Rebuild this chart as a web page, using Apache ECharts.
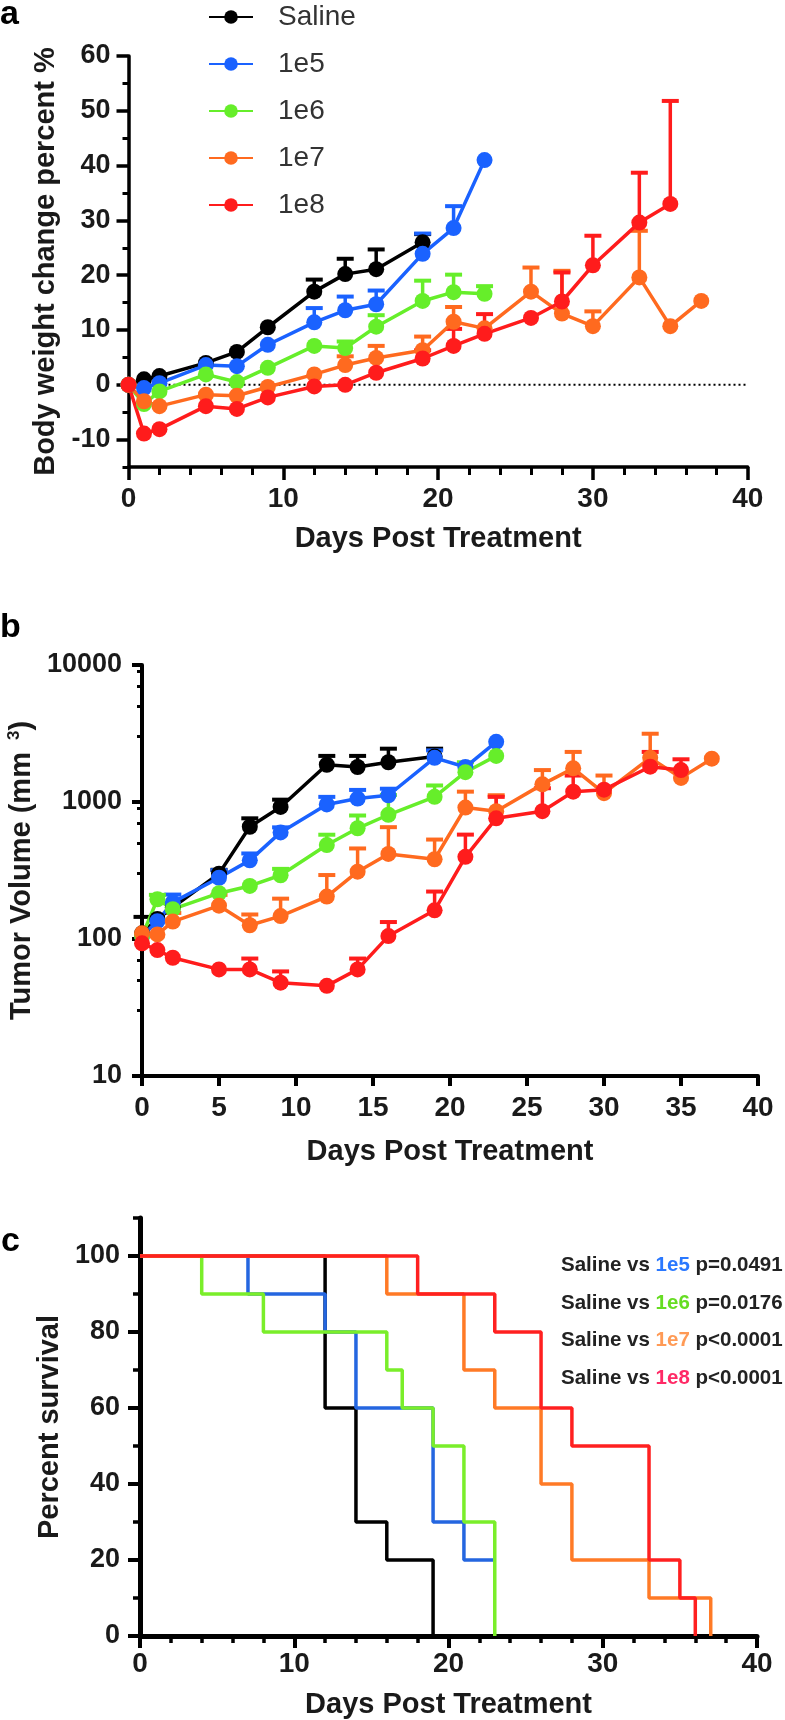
<!DOCTYPE html>
<html><head><meta charset="utf-8">
<script src="https://cdn.jsdelivr.net/npm/echarts@6/dist/echarts.min.js"></script>
<style>html,body{margin:0;padding:0;background:#fff}#c{width:785px;height:1720px}</style>
</head><body><div id="c"></div>
<script>
// ---------- shared ----------
const seriesNames = ['Saline', '1e5', '1e6', '1e7', '1e8'];
const days = [0, 1, 2, 5, 7, 9, 12, 14, 16, 19, 21, 23, 26, 28, 30, 33, 35, 37];

// ---------- panel a: body weight change % ----------
const weightSaline = [0, 1.0, 1.6, 4.0, 6.0, 10.5, 17.0, 20.2, 21.1, 26.0];
const weightSalineUp = [null, null, null, null, null, null, 19.2, 23.0, 24.7, 27.5];
const weight1e5 = [0, -0.6, 0.3, 3.6, 3.4, 7.3, 11.4, 13.6, 14.7, 23.9, 28.6, 41.0];
const weight1e5Up = [null, null, null, null, null, null, 14.0, 16.1, 17.2, 27.6, 32.6, null];
const weight1e6 = [0, -3.5, -1.2, 1.9, 0.5, 3.1, 7.1, 6.7, 10.6, 15.3, 16.9, 16.6];
const weight1e6Up = [null, null, null, null, null, null, null, 7.9, 12.7, 19.0, 20.1, 18.0];
const weight1e7 = [0, -3.0, -3.9, -1.8, -2.0, -0.4, 1.9, 3.6, 4.9, 6.3, 11.5, 10.3, 17.0, 13.0, 10.7, 19.6, 10.7, 15.3];
const weight1e7Up = [null, null, null, null, null, null, null, 5.2, 7.1, 8.8, 14.2, null, 21.4, 20.8, 13.4, 28.1, null, null];
const weight1e8 = [0, -8.9, -8.1, -3.9, -4.4, -2.3, -0.3, 0.0, 2.2, 4.8, 7.1, 9.3, 12.2, 15.2, 21.8, 29.6, 33.0];
const weight1e8Up = [null, null, null, null, null, null, null, null, null, 6.3, 10.2, 12.9, null, 20.5, 27.2, 38.7, 51.8];
const weightMajorTicks = [-10, 0, 10, 20, 30, 40, 50, 60];
const weightMinorTicks = [-15, -5, 5, 15, 25, 35, 45, 55];
const zeroLineX = [0, 40];
const zeroLineY = [0, 0];

// ---------- panel b: tumor volume (log) ----------
const tumorSaline = [110, 140, 170, 300, 660, 920, 1870, 1800, 1950, 2150];
const tumorSalineUp = [145, null, null, 320, 760, 1040, 2170, 2170, 2450, 2450];
const tumor1e5 = [105, 135, 185, 280, 375, 600, 960, 1060, 1120, 2100, 1800, 2750];
const tumor1e5Up = [null, null, 211, 318, 421, 653, 1090, 1225, 1250, 2380, null, null];
const tumor1e6 = [105, 195, 165, 216, 244, 292, 485, 643, 807, 1090, 1650, 2170];
const tumor1e6Up = [null, 210, null, null, null, 325, 577, 797, 1125, 1320, 1950, null];
const tumor1e7 = [110, 108, 134, 175, 126, 147, 204, 310, 418, 382, 910, 857, 1345, 1760, 1160, 2100, 1500, 2070];
const tumor1e7Up = [null, null, 155, 210, 151, 197, 293, 458, 655, 532, 1190, 1120, 1710, 2320, 1560, 3150, null, null];
const tumor1e8 = [93, 83, 73, 60, 60, 48, 45.5, 60, 105, 162, 398, 760, 857, 1190, 1230, 1810, 1710];
const tumor1e8Up = [null, null, null, null, 72, 58, null, 72, 133, 222, 578, 1090, 1260, 1560, null, 2320, 2050];
const tumorMinorTicks = [30, 50, 70, 90, 300, 500, 700, 900, 3000, 5000, 7000, 9000];

// ---------- panel c: survival ----------
const survSalineT = [0, 12, 14, 16, 19];
const survSalineS = [100, 60, 30, 20, 0];
const surv1e5T = [0, 7, 12, 14, 19, 21, 23];
const surv1e5S = [100, 90, 80, 60, 30, 20, 20];
const surv1e6T = [0, 4, 8, 16, 17, 19, 21, 23];
const surv1e6S = [100, 90, 80, 70, 60, 50, 30, 0];
const surv1e7T = [0, 16, 21, 23, 26, 28, 33, 37];
const surv1e7S = [100, 90, 70, 60, 40, 20, 10, 0];
const surv1e8T = [0, 18, 23, 26, 28, 33, 35, 36];
const surv1e8S = [100, 90, 80, 60, 50, 20, 10, 0];
const survMajorTicks = [0, 20, 40, 60, 80, 100];
const survMinorTicks = [10, 30, 50, 70, 90, 110];
const pGroups = ['1e5', '1e6', '1e7', '1e8'];
const pValues = ['p=0.0491', 'p=0.0176', 'p<0.0001', 'p<0.0001'];

// ---------- styling ----------
const FONT = '"Liberation Sans", Arial, Helvetica, sans-serif';
const INK = '#1a1a1a';
const lineColors = ['#000000', '#1a62ff', '#66ee2a', '#ff6a1f', '#ff1c1c'];
const survColors = ['#000000', '#2466e0', '#7aee2a', '#ff7a26', '#ff2020'];
const pColors = ['#2a78ff', '#66dd22', '#ff9a55', '#ff2a66'];

function pairs(xs, ys) { return ys.map((v, i) => [xs[i], v]); }
function errData(xs, ys, ups) {
  const out = [];
  ups.forEach((u, i) => { if (u != null) out.push([xs[i], ys[i], u]); });
  return out;
}
function errSeries(xi, yi, data, color, lw) {
  return {
    type: 'custom', name: 'err', xAxisIndex: xi, yAxisIndex: yi, data: data, silent: true,
    encode: { x: 0, y: 1 },
    renderItem: function (params, api) {
      const p0 = api.coord([api.value(0), api.value(1)]);
      const p1 = api.coord([api.value(0), api.value(2)]);
      const cap = 8.5;
      return {
        type: 'group', children: [
          { type: 'line', shape: { x1: p0[0], y1: p0[1], x2: p1[0], y2: p1[1] }, style: { stroke: color, lineWidth: lw } },
          { type: 'line', shape: { x1: p1[0] - cap, y1: p1[1], x2: p1[0] + cap, y2: p1[1] }, style: { stroke: color, lineWidth: lw + 0.5 } }
        ]
      };
    }
  };
}
function lineSeries(name, xi, yi, data, color) {
  return {
    type: 'line', name: name, xAxisIndex: xi, yAxisIndex: yi, data: data,
    symbol: 'circle', symbolSize: 16, showSymbol: true,
    lineStyle: { color: color, width: 3.5 }, itemStyle: { color: color }
  };
}
const labelStyle = (size, margin) => ({ fontFamily: FONT, fontWeight: 'bold', fontSize: size, color: INK, margin: margin });
const nameStyle = { fontFamily: FONT, fontWeight: 'bold', fontSize: 29, color: INK };

const weightVals = [weightSaline, weight1e5, weight1e6, weight1e7, weight1e8];
const weightUps = [weightSalineUp, weight1e5Up, weight1e6Up, weight1e7Up, weight1e8Up];
const tumorVals = [tumorSaline, tumor1e5, tumor1e6, tumor1e7, tumor1e8];
const tumorUps = [tumorSalineUp, tumor1e5Up, tumor1e6Up, tumor1e7Up, tumor1e8Up];
const survT = [survSalineT, surv1e5T, surv1e6T, surv1e7T, surv1e8T];
const survS = [survSalineS, surv1e5S, surv1e6S, surv1e7S, surv1e8S];

const series = [];
series.push({
  type: 'line', name: 'zero', xAxisIndex: 0, yAxisIndex: 0, data: pairs(zeroLineX, zeroLineY),
  symbol: 'none', silent: true, z: 1, lineStyle: { color: '#000', width: 2, type: [2, 3] }
});
seriesNames.forEach((n, i) => {
  series.push(errSeries(0, 0, errData(days, weightVals[i], weightUps[i]), lineColors[i], 3.5));
  series.push(lineSeries(n, 0, 0, pairs(days, weightVals[i]), lineColors[i]));
});
seriesNames.forEach((n, i) => {
  series.push(errSeries(1, 2, errData(days, tumorVals[i], tumorUps[i]), lineColors[i], 3.5));
  series.push(lineSeries(n, 1, 2, pairs(days, tumorVals[i]), lineColors[i]));
});
seriesNames.forEach((n, i) => {
  series.push({
    type: 'line', name: n, xAxisIndex: 2, yAxisIndex: 4, data: pairs(survT[i], survS[i]),
    step: 'end', symbol: 'none', lineStyle: { color: survColors[i], width: 3.5 }, itemStyle: { color: survColors[i] }
  });
});

const rich = {};
pColors.forEach((c, i) => { rich['g' + i] = { fill: c, fontFamily: FONT, fontWeight: 'bold', fontSize: 20.5 }; });
const pText = pGroups.map((g, i) => 'Saline vs {g' + i + '|' + g + '} ' + pValues[i]).join('\n');

const option = {
  animation: false,
  backgroundColor: '#fff',
  legend: {
    data: seriesNames, orient: 'vertical', left: 203, top: -2,
    itemWidth: 44, itemHeight: 17, itemGap: 19, selectedMode: false,
    textStyle: { fontFamily: FONT, fontSize: 28, color: '#333', lineHeight: 28, padding: [0, 0, 0, 20] }
  },
  grid: [
    { left: 128.5, top: 56, width: 619.2, height: 411, outerBoundsMode: 'none', containLabel: false },
    { left: 142, top: 665, width: 616, height: 411, outerBoundsMode: 'none', containLabel: false },
    { left: 140, top: 1218, width: 617, height: 418, outerBoundsMode: 'none', containLabel: false }
  ],
  xAxis: [
    {
      gridIndex: 0, type: 'value', min: 0, max: 40, interval: 10,
      axisLine: { onZero: false, lineStyle: { color: '#000', width: 3.5 } },
      axisTick: { length: 13, lineStyle: { color: '#000', width: 3.5 } },
      minorTick: { show: true, splitNumber: 5, length: 8, lineStyle: { color: '#000', width: 3 } },
      splitLine: { show: false }, minorSplitLine: { show: false },
      axisLabel: labelStyle(28, 18),
      name: 'Days Post Treatment', nameLocation: 'middle', nameGap: 57, nameTextStyle: nameStyle
    },
    {
      gridIndex: 1, type: 'value', min: 0, max: 40, interval: 5,
      axisLine: { onZero: false, lineStyle: { color: '#000', width: 4 } },
      axisTick: { length: 10, lineStyle: { color: '#000', width: 4 } },
      splitLine: { show: false },
      axisLabel: labelStyle(28, 18),
      name: 'Days Post Treatment', nameLocation: 'middle', nameGap: 61, nameTextStyle: nameStyle
    },
    {
      gridIndex: 2, type: 'value', min: 0, max: 40, interval: 10,
      axisLine: { onZero: false, lineStyle: { color: '#000', width: 5 } },
      axisTick: { length: 12, lineStyle: { color: '#000', width: 4 } },
      minorTick: { show: true, splitNumber: 5, length: 7, lineStyle: { color: '#000', width: 3.5 } },
      splitLine: { show: false }, minorSplitLine: { show: false },
      axisLabel: labelStyle(28, 14),
      name: 'Days Post Treatment', nameLocation: 'middle', nameGap: 54, nameTextStyle: nameStyle
    }
  ],
  yAxis: [
    {
      gridIndex: 0, type: 'value', min: -15, max: 60, interval: 5,
      axisLine: { show: true, onZero: false, lineStyle: { color: '#000', width: 3.5 } },
      axisTick: { customValues: weightMajorTicks, length: 12, lineStyle: { color: '#000', width: 3.5 } },
      axisLabel: Object.assign({ customValues: weightMajorTicks }, labelStyle(27, 18)),
      splitLine: { show: false },
      name: 'Body weight change percent %', nameLocation: 'middle', nameGap: 61, nameRotate: 90, nameTextStyle: nameStyle
    },
    {
      gridIndex: 0, type: 'value', min: -15, max: 60, interval: 5, position: 'left',
      axisLine: { show: false },
      axisTick: { show: true, customValues: weightMinorTicks, length: 6, lineStyle: { color: '#000', width: 3 } },
      axisLabel: { show: false }, splitLine: { show: false }
    },
    {
      gridIndex: 1, type: 'log', logBase: 10, min: 10, max: 10000,
      axisLine: { show: true, onZero: false, lineStyle: { color: '#000', width: 4 } },
      axisTick: { length: 10, lineStyle: { color: '#000', width: 4 } },
      axisLabel: Object.assign({ formatter: v => String(Math.round(v)) }, labelStyle(27, 20)),
      splitLine: { show: false },
      name: 'Tumor Volume (mm {s|3})', nameLocation: 'middle', nameGap: 92, nameRotate: 90,
      nameTextStyle: Object.assign({ rich: { s: { fontFamily: FONT, fontWeight: 'bold', fontSize: 17, color: INK, verticalAlign: 'top', padding: [0, 0, 14, 4] } } }, nameStyle)
    },
    {
      gridIndex: 1, type: 'log', logBase: 10, min: 10, max: 10000, position: 'left',
      axisLine: { show: false },
      axisTick: { show: true, customValues: tumorMinorTicks, length: 5, lineStyle: { color: '#000', width: 3 } },
      axisLabel: { show: false }, splitLine: { show: false }
    },
    {
      gridIndex: 2, type: 'value', min: 0, max: 110, interval: 10,
      axisLine: { show: true, onZero: false, lineStyle: { color: '#000', width: 5 } },
      axisTick: { customValues: survMajorTicks, length: 12, lineStyle: { color: '#000', width: 4 } },
      axisLabel: Object.assign({ customValues: survMajorTicks }, labelStyle(27, 20)),
      splitLine: { show: false },
      name: 'Percent survival', nameLocation: 'middle', nameGap: 59, nameRotate: 90, nameTextStyle: nameStyle
    },
    {
      gridIndex: 2, type: 'value', min: 0, max: 110, interval: 10, position: 'left',
      axisLine: { show: false },
      axisTick: { show: true, customValues: survMinorTicks, length: 7, lineStyle: { color: '#000', width: 3.5 } },
      axisLabel: { show: false }, splitLine: { show: false }
    }
  ],
  graphic: [
    { type: 'text', x: 0, y: 15, style: { text: 'a', fill: '#000', fontFamily: FONT, fontWeight: 'bold', fontSize: 34, verticalAlign: 'middle' } },
    { type: 'text', x: 0, y: 628, style: { text: 'b', fill: '#000', fontFamily: FONT, fontWeight: 'bold', fontSize: 34, verticalAlign: 'middle' } },
    { type: 'text', x: 1, y: 1242, style: { text: 'c', fill: '#000', fontFamily: FONT, fontWeight: 'bold', fontSize: 34, verticalAlign: 'middle' } },
    { type: 'text', x: 561, y: 1247, style: { text: pText, fill: '#222', fontFamily: FONT, fontWeight: 'bold', fontSize: 20.5, lineHeight: 37.5, verticalAlign: 'top', rich: rich } }
  ],
  series: series
};
const chart = echarts.init(document.getElementById('c'), null, { renderer: 'canvas' });
chart.setOption(option);
</script>
</body></html>
